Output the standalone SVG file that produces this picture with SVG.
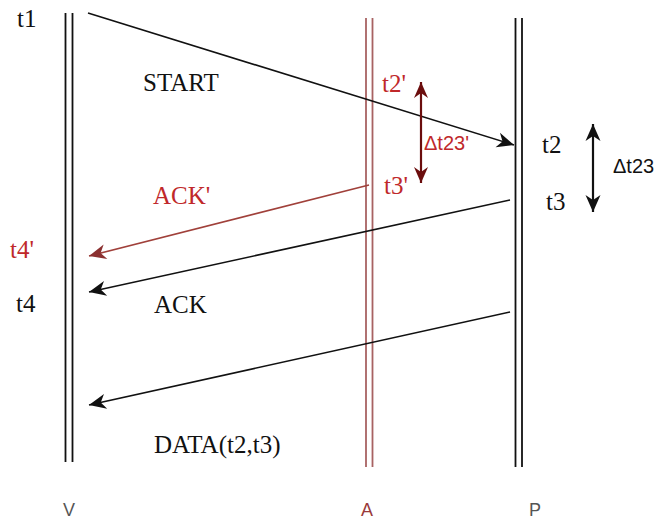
<svg xmlns="http://www.w3.org/2000/svg" width="657" height="520" viewBox="0 0 657 520">
<style>
.lifeline{stroke:#111;stroke-width:1.8;fill:none}
.lifeline-a{stroke:#a86262;stroke-width:1.8;fill:none}
.msg{stroke:#111;stroke-width:1.6;fill:none}
.msg-red{stroke:#a0403a;stroke-width:1.6;fill:none}
.serif{font-family:"Liberation Serif","Times New Roman",serif;font-size:25px}
.sans{font-family:"Liberation Sans",Arial,sans-serif}
.blk{fill:#111}
.red{fill:#c0282a}
.axis{font-family:"Liberation Sans",Arial,sans-serif;font-size:18px}
</style>
<defs>
<marker id="ah" viewBox="-18 -8 19 16" refX="0" refY="0" markerWidth="19" markerHeight="16" orient="auto-start-reverse" markerUnits="userSpaceOnUse">
<path d="M0,0 L-17,-7.5 L-12,0 L-17,7.5 z" fill="#111"/>
</marker>
<marker id="ahr" viewBox="-18 -8 19 16" refX="0" refY="0" markerWidth="19" markerHeight="16" orient="auto-start-reverse" markerUnits="userSpaceOnUse">
<path d="M0,0 L-17,-7.5 L-12,0 L-17,7.5 z" fill="#8b3030"/>
</marker>
<marker id="ahd" viewBox="-18 -8 19 16" refX="0" refY="0" markerWidth="19" markerHeight="16" orient="auto-start-reverse" markerUnits="userSpaceOnUse">
<path d="M0,0 L-16,-7 L-11,0 L-16,7 z" fill="#6b0d0d"/>
</marker>
</defs>
<g id="lifeline-V">
<line class="lifeline" x1="65.5" y1="13" x2="65.5" y2="462"/>
<line class="lifeline" x1="72.5" y1="13" x2="72.5" y2="462"/>
<text class="axis" x="63" y="516" fill="#555">V</text>
</g>
<g id="lifeline-A">
<line class="lifeline-a" x1="366" y1="18" x2="366" y2="467"/>
<line class="lifeline-a" x1="372.5" y1="18" x2="372.5" y2="467"/>
<text class="axis" x="361" y="516" fill="#9a3a3a">A</text>
</g>
<g id="lifeline-P">
<line class="lifeline" x1="515.5" y1="18" x2="515.5" y2="467"/>
<line class="lifeline" x1="522" y1="18" x2="522" y2="467"/>
<text class="axis" x="529" y="516" fill="#555">P</text>
</g>
<g id="connectors">
<line class="msg" x1="88" y1="13" x2="514" y2="145" marker-end="url(#ah)"/>
<line class="msg-red" x1="369" y1="185" x2="89" y2="256" marker-end="url(#ahr)"/>
<line class="msg" x1="510" y1="200" x2="89" y2="292" marker-end="url(#ah)"/>
<line class="msg" x1="510" y1="312" x2="89" y2="405" marker-end="url(#ah)"/>
<line x1="421" y1="82" x2="421" y2="183" stroke="#6b0d0d" stroke-width="2.2" marker-start="url(#ahd)" marker-end="url(#ahd)"/>
<line x1="593" y1="124" x2="593" y2="212" stroke="#111" stroke-width="2.2" marker-start="url(#ah)" marker-end="url(#ah)"/>
</g>
<g id="labels">
<text class="serif blk" x="17" y="27">t1</text>
<text class="serif blk" x="143" y="91">START</text>
<text class="serif red" x="153" y="204">ACK'</text>
<text class="serif red" x="10" y="258">t4'</text>
<text class="serif blk" x="16" y="312">t4</text>
<text class="serif blk" x="154" y="313">ACK</text>
<text class="serif blk" x="154" y="453">DATA(t2,t3)</text>
<text class="serif red" x="382" y="92">t2'</text>
<text class="serif red" x="384" y="194">t3'</text>
<text class="sans red" x="424" y="150" font-size="20">Δt23'</text>
<text class="serif blk" x="542" y="153">t2</text>
<text class="serif blk" x="546" y="210">t3</text>
<text class="sans blk" x="613" y="173" font-size="20">Δt23</text>
</g>
</svg>
